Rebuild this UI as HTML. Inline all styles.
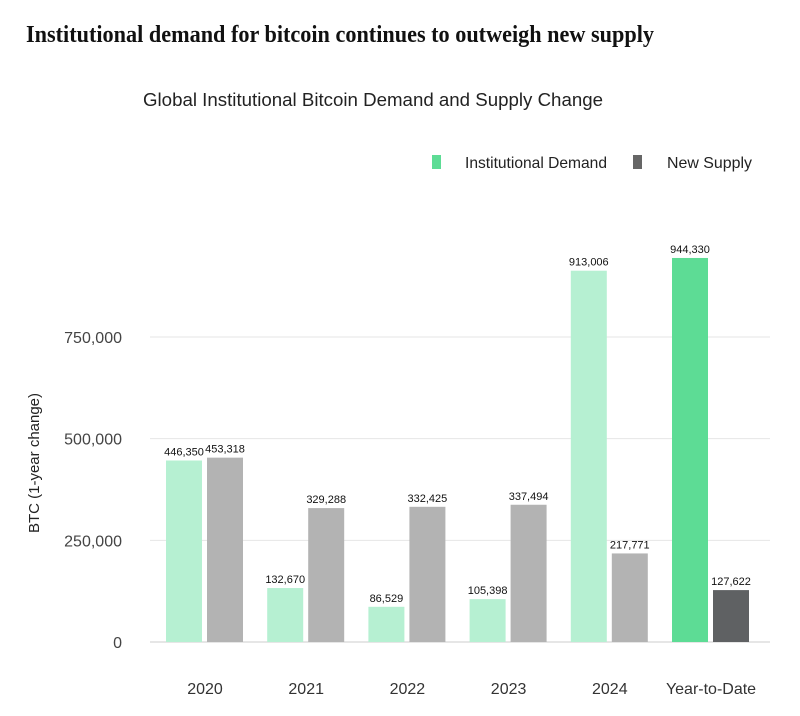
<!DOCTYPE html>
<html><head><meta charset="utf-8"><style>
body{margin:0;background:#fff;width:800px;height:716px;overflow:hidden}
svg{display:block}
</style></head><body>
<svg id="chart" width="800" height="716" viewBox="0 0 800 716" xmlns="http://www.w3.org/2000/svg">
<text x="26" y="42" font-family="Liberation Serif, serif" font-weight="bold" font-size="24" textLength="628" lengthAdjust="spacingAndGlyphs" fill="#111">Institutional demand for bitcoin continues to outweigh new supply</text>
<text x="143" y="106" font-family="Liberation Sans, sans-serif" font-size="18" textLength="460" lengthAdjust="spacingAndGlyphs" fill="#222">Global Institutional Bitcoin Demand and Supply Change</text>
<g>
<rect x="432" y="155" width="9" height="14" fill="#5ddc95"/>
<text x="465" y="168" font-family="Liberation Sans, sans-serif" font-size="16" textLength="142" lengthAdjust="spacingAndGlyphs" fill="#222">Institutional Demand</text>
<rect x="633" y="155" width="9" height="14" fill="#666"/>
<text x="667" y="168" font-family="Liberation Sans, sans-serif" font-size="16" textLength="85" lengthAdjust="spacingAndGlyphs" fill="#222">New Supply</text>
</g>
<text transform="translate(39,463) rotate(-90)" text-anchor="middle" font-family="Liberation Sans, sans-serif" font-size="15" fill="#222">BTC (1-year change)</text>
<g id="grid"></g>
<g id="bars"></g>
</svg>
<script>
const categories=["2020","2021","2022","2023","2024","Year-to-Date"];
const demand=[446350,132670,86529,105398,913006,944330];
const supply=[453318,329288,332425,337494,217771,127622];
const yTicks=[0,250000,500000,750000];
const ns="http://www.w3.org/2000/svg";
const y0=642, pxPer=305/750000;
const y=v=>y0-v*pxPer;
const x=i=>204+i*101.2;
const fmt=v=>v.toLocaleString("en-US");
const grid=document.getElementById("grid"), bars=document.getElementById("bars");
function mk(tag,attrs,parent,text){const e=document.createElementNS(ns,tag);for(const k in attrs)e.setAttribute(k,attrs[k]);if(text!=null)e.textContent=text;parent.appendChild(e);return e;}
yTicks.forEach(t=>{
 const l=mk("line",{x1:150,x2:770,y1:y(t),y2:y(t),stroke:t===0?"#ccc":"#e6e6e6","stroke-width":1},grid);
 
 
 const tx=mk("text",{x:122,y:y(t)+6,"text-anchor":"end","font-family":"Liberation Sans, sans-serif","font-size":16,fill:"#444"},grid,fmt(t));
 
 
});
categories.forEach((c,i)=>{
 const ytd=i===categories.length-1;
 const cx=x(i);
 const d=mk("rect",{x:cx-38,y:y(demand[i]),width:36,height:demand[i]*pxPer,fill:ytd?"#5ddc95":"#b6f0d2"},bars);
 
 
 const s=mk("rect",{x:cx+3,y:y(supply[i]),width:36,height:supply[i]*pxPer,fill:ytd?"#5f6163":"#b3b3b3"},bars);
 
 
 const dl=mk("text",{x:cx-20,y:y(demand[i])-5,"text-anchor":"middle","font-family":"Liberation Sans, sans-serif","font-size":11,fill:"#111"},bars,fmt(demand[i]));
 
 
 const sl=mk("text",{x:cx+21,y:y(supply[i])-5,"text-anchor":"middle","font-family":"Liberation Sans, sans-serif","font-size":11,fill:"#111"},bars,fmt(supply[i]));
 
 
 const xl=mk("text",{x:cx+1,y:694,"text-anchor":"middle","font-family":"Liberation Sans, sans-serif","font-size":16,fill:"#333"},bars,c);
 
 
});
</script>
</body></html>
